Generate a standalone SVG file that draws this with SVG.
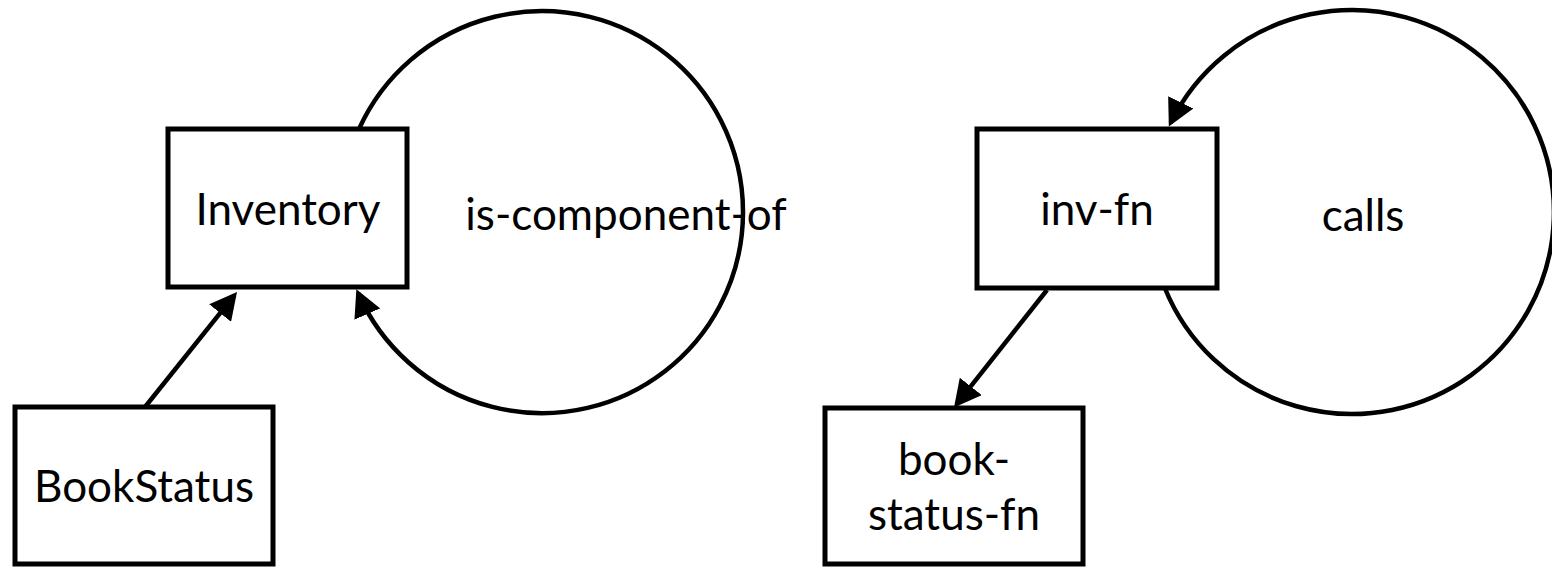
<svg xmlns="http://www.w3.org/2000/svg" width="1552" height="567" viewBox="0 0 1552 567">
<style>
.box{fill:#fff;stroke:#000;stroke-width:5}
.lbl{font-family:Lato,"Liberation Sans",sans-serif;font-size:44px;fill:#000;text-anchor:middle}
.conn{fill:none;stroke:#000;stroke-width:4.5}
</style>
<defs>
<marker id="arr" markerUnits="userSpaceOnUse" viewBox="0 0 27 28" refX="23" refY="14" markerWidth="27" markerHeight="28" orient="auto">
<path d="M0,0 L27,14 L0,28 z" fill="#000"/>
</marker>
</defs>
<rect width="1552" height="567" fill="#fff"/>
<g id="connectors">
<path class="conn" d="M145,407 L234.5,295.1" marker-end="url(#arr)"/>
<path class="conn" d="M359,129 A201,201 0 1 1 358,293" marker-end="url(#arr)"/>
<path class="conn" d="M1047,290 L956.5,404.4" marker-end="url(#arr)"/>
<path class="conn" d="M1164.8,288 A202,202 0 1 0 1170.6,123" marker-end="url(#arr)"/>
</g>
<g id="node-inventory">
<rect class="box" x="168" y="129" width="239" height="158"/>
<text class="lbl" x="288" y="225">Inventory</text>
</g>
<g id="node-bookstatus">
<rect class="box" x="15" y="407" width="258" height="157"/>
<text class="lbl" x="144" y="502">BookStatus</text>
</g>
<g id="node-inv-fn">
<rect class="box" x="977" y="129" width="240" height="159"/>
<text class="lbl" x="1097" y="225">inv-fn</text>
</g>
<g id="node-book-status-fn">
<rect class="box" x="825" y="408" width="258" height="156"/>
<text class="lbl" x="954" y="475">book-</text>
<text class="lbl" x="954" y="530">status-fn</text>
</g>
<g id="edge-labels">
<text class="lbl" x="626" y="230">is-component-of</text>
<text class="lbl" x="1363" y="231">calls</text>
</g>
</svg>
